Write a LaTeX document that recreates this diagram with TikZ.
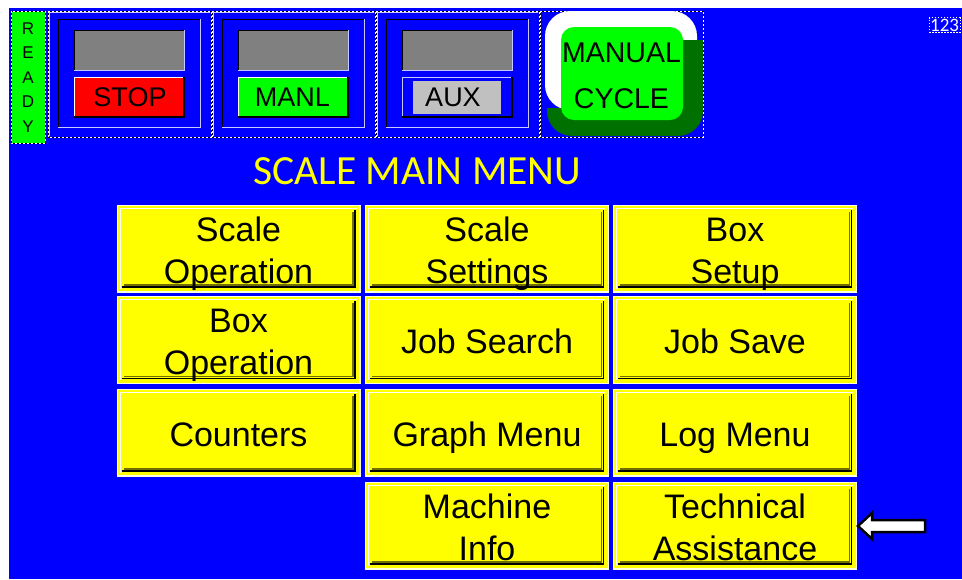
\documentclass[tikz,border=0pt]{standalone}
\usepackage{fontspec}
\setmainfont{Liberation Sans}
\newfontfamily\titlefont{Carlito}
\definecolor{hmiblue}{HTML}{0000FF}
\definecolor{btnyellow}{HTML}{FFFF00}
\definecolor{hmigreen}{HTML}{00FF00}
\definecolor{shadegreen}{HTML}{007000}
\definecolor{dispgray}{HTML}{808080}
\definecolor{auxgray}{HTML}{C0C0C0}
\definecolor{olivedk}{HTML}{707000}
\definecolor{lightline}{HTML}{C8C8FF}
\definecolor{paleedge}{HTML}{FFFFE0}
\tikzset{
  btntext/.style={font=\fontsize{34}{42}\selectfont, text=black, inner sep=0pt, anchor=base},
  toptext/.style={font=\fontsize{27}{30}\selectfont, text=black, inner sep=0pt},
  selblack/.style={draw=black, line width=1pt},
  selwhite/.style={draw=white, line width=1pt, dash pattern=on 2pt off 2pt},
}
\newcommand\lines[1]{\begin{tabular}[t]{@{}c@{}}#1\end{tabular}}
% #1 name, #2 cx, #3 cy, #4 first baseline y, #5 text
\newcommand\menubtn[5]{%
  \fill[btnyellow] (#2-122,#3-44) rectangle (#2+122,#3+44);
  \draw[paleedge,line width=1.2pt] (#2-121.4,#3-43.4) rectangle (#2+121.4,#3+43.4);
  \draw[white,line width=1pt] (#2-118.5,#3+40) -- (#2-118.5,#3-40.5) -- (#2+118,#3-40.5);
  \draw[black,line width=1.5pt] (#2-117,#3+38.5) -- (#2+116.5,#3+38.5) -- (#2+116.5,#3-39);
  \draw[olivedk,line width=1.5pt] (#2-115,#3+36.5) -- (#2+114.5,#3+36.5) -- (#2+114.5,#3-37);
  \node[btntext] (#1) at (#2,#4) {\lines{#5}};
}
\newcommand\toppanel[1]{%
  \draw[selblack] (#1,11) rectangle (#1+163,137);
  \draw[selwhite] (#1,11) rectangle (#1+163,137);
  \draw[lightline,line width=1pt] (#1+1,136) -- (#1+1,12) -- (#1+162,12);
  \draw[black,line width=1pt] (#1+10,127) -- (#1+10,19) -- (#1+152,19);
  \draw[lightline,line width=1pt] (#1+10,127) -- (#1+152,127) -- (#1+152,19);
  \fill[dispgray] (#1+26,30) rectangle (#1+136,70);
  \draw[black,line width=1pt] (#1+26,70) -- (#1+26,30) -- (#1+136,30);
  \draw[lightline,line width=1pt] (#1+26,70) -- (#1+136,70) -- (#1+136,30);
}
\newcommand\raisedbtn[2]{% #1 left x, #2 fill
  \fill[#2] (#1+26,77) rectangle (#1+136,117);
  \draw[white,line width=1pt] (#1+26,117) -- (#1+26,77) -- (#1+136,77);
  \draw[black,line width=1.2pt] (#1+26,117) -- (#1+136,117) -- (#1+136,77);
}
\begin{document}
\begin{tikzpicture}[x=1pt,y=-1pt]
\useasboundingbox (0,0) rectangle (962,579);
\fill[white] (0,0) rectangle (962,579);
\fill[hmiblue] (9,8) rectangle (962,579);

% READY indicator
\fill[hmigreen] (11,11) rectangle (45,143);
\draw[selblack] (11,11) rectangle (45,143);
\draw[selwhite] (11,11) rectangle (45,143);
\node[font=\fontsize{17}{24.5}\selectfont, inner sep=0pt, anchor=base] (ready) at (28,34) {\lines{R\\E\\A\\D\\Y}};

% panel 1 STOP
\toppanel{48}
\raisedbtn{48}{red}
\node[toptext] (stop) at (130,97.5) {STOP};

% panel 2 MANL
\toppanel{212}
\raisedbtn{212}{hmigreen}
\node[toptext] (manl) at (292.5,97.5) {MANL};

% panel 3 AUX
\toppanel{376}
\fill[hmiblue] (402,77) rectangle (512,117);
\draw[lightline,line width=1pt] (402,117) -- (402,77) -- (512,77);
\draw[black,line width=1.2pt] (402,117) -- (512,117) -- (512,77);
\fill[auxgray] (413,81) rectangle (501,114);
\node[toptext] (aux) at (453,97.5) {AUX};

% panel 4 MANUAL CYCLE
\draw[selblack] (540,11) rectangle (703,137);
\draw[selwhite] (540,11) rectangle (703,137);
\fill[white, rounded corners=25pt] (545,11) rectangle (697,110);
\begin{scope}
  \clip (540,108) -- (612,108) -- (612,40) -- (710,40) -- (710,140) -- (540,140) -- cycle;
  \fill[shadegreen, rounded corners=25pt] (547,11) rectangle (703,136);
\end{scope}
\fill[hmigreen, rounded corners=13pt] (561,27) rectangle (683,120);
\node[font=\fontsize{28.5}{30}\selectfont, inner sep=0pt, anchor=base] (manual) at (621.5,62.5) {MANUAL};
\node[font=\fontsize{28.5}{30}\selectfont, inner sep=0pt, anchor=base] (cycle) at (621.5,108) {CYCLE};

% 123 indicator
\node[font=\titlefont\fontsize{19}{20}\selectfont, text=white, inner sep=1pt, anchor=east, draw=white, dash pattern=on 1.5pt off 1.5pt, line width=0.8pt] (kbd) at (960.5,25) {123};

% title
\node[font=\titlefont\fontsize{41.5}{44}\selectfont, text=btnyellow, inner sep=0pt, anchor=base] (title) at (417.5,184) {SCALE MAIN MENU};

% menu buttons
\menubtn{scaleop}{238.5}{248.5}{241}{Scale\\Operation}
\menubtn{scaleset}{487}{248.5}{241}{Scale\\Settings}
\menubtn{boxsetup}{735}{248.5}{241}{Box\\Setup}
\menubtn{boxop}{238.5}{340}{332.5}{Box\\Operation}
\menubtn{jobsearch}{487}{340}{353}{Job Search}
\menubtn{jobsave}{735}{340}{353}{Job Save}
\menubtn{counters}{238.5}{432.5}{446}{Counters}
\menubtn{graph}{487}{432.5}{446}{Graph Menu}
\menubtn{logmenu}{735}{432.5}{446}{Log Menu}
\menubtn{machine}{487}{525.5}{518}{Machine\\Info}
\menubtn{techassist}{735}{525.5}{518}{Technical\\Assistance}

% pointer arrow
\draw[black, fill=white, line width=2.5pt, line join=miter] (858,526) -- (872,513) -- (872,520) -- (925,520) -- (925,532) -- (872,532) -- (872,539) -- cycle;
\end{tikzpicture}
\end{document}
